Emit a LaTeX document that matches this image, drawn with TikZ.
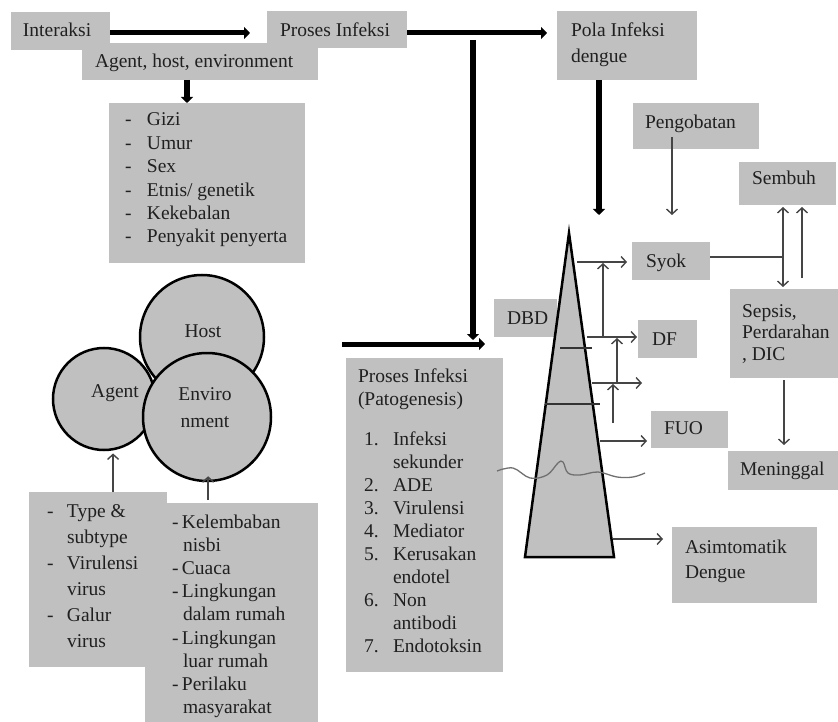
\documentclass[tikz,border=0pt]{standalone}
\usepackage{fontspec}
\setmainfont{Liberation Serif}
\usetikzlibrary{arrows.meta}
\definecolor{boxgray}{HTML}{C0C0C0}
\definecolor{txtc}{HTML}{202020}
\definecolor{linec}{HTML}{454545}
\definecolor{wavec}{HTML}{707070}
\begin{document}
\begin{tikzpicture}[x=1pt,y=-1pt,
  box/.style={fill=boxgray, draw=none, inner sep=0pt, outer sep=0pt, anchor=north west},
  txt/.style={inner sep=0pt, outer sep=0pt, text=txtc, font=\fontsize{19.5}{23.4}\selectfont, anchor=base west},
  circ/.style={circle, draw=black, line width=2.5pt, fill=boxgray, inner sep=0pt},
  bigarrow/.style={line width=5pt, draw=black, -{Triangle[length=6pt,width=12pt]}},
  thinarrow/.style={draw=linec, line width=1.4pt, -{Straight Barb[length=5pt,width=11pt]}},
  thinboth/.style={draw=linec, line width=1.4pt, {Straight Barb[length=5pt,width=11pt]}-{Straight Barb[length=5pt,width=11pt]}},
  thinline/.style={draw=linec, line width=1.4pt}
]
\useasboundingbox (0,0) rectangle (838,722);

% ---- boxes ----
\node[box, minimum width=99pt, minimum height=38pt] (intbox) at (11,12) {};
\node[box, minimum width=236pt, minimum height=37pt] (agentbox) at (82,43) {};
\node[box, minimum width=140pt, minimum height=37pt] (procbox) at (267,11) {};
\node[box, minimum width=140pt, minimum height=69pt] (polabox) at (557,11) {};
\node[box, minimum width=196pt, minimum height=160pt] (gizibox) at (109,103) {};
\node[box, minimum width=126pt, minimum height=46pt] (pengbox) at (633,103) {};
\node[box, minimum width=97pt, minimum height=43pt] (sembox) at (739,162) {};
\node[box, minimum width=78pt, minimum height=38pt] (syokbox) at (632,242) {};
\node[box, minimum width=63pt, minimum height=38pt] (dbdbox) at (494,299) {};
\node[box, minimum width=59pt, minimum height=38pt] (dfbox) at (638,320) {};
\node[box, minimum width=108pt, minimum height=89pt] (sepbox) at (730,289) {};
\node[box, minimum width=77pt, minimum height=37pt] (fuobox) at (651,411) {};
\node[box, minimum width=110pt, minimum height=39pt] (menbox) at (728,451) {};
\node[box, minimum width=145pt, minimum height=76pt] (asimbox) at (672,527) {};
\node[box, minimum width=157pt, minimum height=314pt] (patbox) at (346,358) {};
\node[box, minimum width=173pt, minimum height=219pt] (kelbox) at (145,503) {};
\node[box, minimum width=138pt, minimum height=175pt] (typebox) at (29,492) {};

% ---- circles ----
\node[circ, minimum size=124pt] (hostc) at (202,337) {};
\node[circ, minimum size=102pt] (agentc) at (104,399) {};
\node[circ, minimum size=128pt] (envc) at (207,417) {};

% ---- triangle ----
\coordinate (apex) at (569,233);
\coordinate (tbl) at (525,557);
\coordinate (tbr) at (614,557);
\draw[line width=2.5pt, fill=boxgray, line join=miter] (apex) -- (tbr) -- (tbl) -- cycle;
\draw[draw=black!80, line width=1.2pt] (560,348) -- (592,348);
\draw[draw=black!80, line width=1.2pt] (545,404) -- (600,404);

% ---- texts ----
\node[txt] (t-int) at (23,37) {Interaksi};
\node[txt] (t-proc) at (280,37) {Proses Infeksi};
\node[txt] (t-agent) at (95,68) {Agent, host, environment};
\node[txt, font=\fontsize{19.5}{26}\selectfont] (t-pola) at (571,37)
  {\begin{tabular}[t]{@{}l@{}}Pola Infeksi\\dengue\end{tabular}};
\node[txt] (t-gizi) at (125,126)
  {\begin{tabular}[t]{@{}l@{}}
   \makebox[22pt][l]{-}Gizi\\
   \makebox[22pt][l]{-}Umur\\
   \makebox[22pt][l]{-}Sex\\
   \makebox[22pt][l]{-}Etnis/ genetik\\
   \makebox[22pt][l]{-}Kekebalan\\
   \makebox[22pt][l]{-}Penyakit penyerta
   \end{tabular}};
\node[txt] (t-peng) at (645,129) {Pengobatan};
\node[txt] (t-sem) at (752,185) {Sembuh};
\node[txt] (t-syok) at (646,267) {Syok};
\node[txt] (t-dbd) at (507,324) {DBD};
\node[txt] (t-df) at (652,345) {DF};
\node[txt] (t-fuo) at (664,434) {FUO};
\node[txt] (t-men) at (740,475) {Meninggal};
\node[txt, font=\fontsize{19.5}{25}\selectfont] (t-asim) at (685,553)
  {\begin{tabular}[t]{@{}l@{}}Asimtomatik\\Dengue\end{tabular}};
\node[txt, font=\fontsize{19.5}{21.5}\selectfont] (t-sep) at (742,317)
  {\begin{tabular}[t]{@{}l@{}}Sepsis,\\Perdarahan\\, DIC\end{tabular}};
\node[txt, anchor=base] (t-host) at (203,337) {Host};
\node[txt, anchor=base] (t-agc) at (115,397) {Agent};
\node[txt, anchor=base, font=\fontsize{19.5}{27}\selectfont] (t-env) at (205,400)
  {\begin{tabular}[t]{@{}c@{}}Enviro\\nment\end{tabular}};
\node[txt, font=\fontsize{19.5}{26}\selectfont] (t-type) at (47,517)
  {\begin{tabular}[t]{@{}l@{}}
   \makebox[20pt][l]{-}Type \&\\
   \makebox[20pt][l]{}subtype\\
   \makebox[20pt][l]{-}Virulensi\\
   \makebox[20pt][l]{}virus\\
   \makebox[20pt][l]{-}Galur\\
   \makebox[20pt][l]{}virus
   \end{tabular}};
\node[txt, font=\fontsize{19.5}{23.2}\selectfont] (t-kel) at (172,528)
  {\begin{tabular}[t]{@{}l@{}}
   \makebox[10pt][l]{-}Kelembaban\\
   \makebox[11pt][l]{}nisbi\\
   \makebox[10pt][l]{-}Cuaca\\
   \makebox[10pt][l]{-}Lingkungan\\
   \makebox[11pt][l]{}dalam rumah\\
   \makebox[10pt][l]{-}Lingkungan\\
   \makebox[11pt][l]{}luar rumah\\
   \makebox[10pt][l]{-}Perilaku\\
   \makebox[11pt][l]{}masyarakat
   \end{tabular}};
\node[txt, font=\fontsize{19.5}{23}\selectfont] (t-pat) at (358,382)
  {\begin{tabular}[t]{@{}l@{}}
   Proses Infeksi\\
   (Patogenesis)\\[17pt]
   \hspace{6pt}\makebox[29pt][l]{1.}Infeksi\\
   \hspace{6pt}\makebox[29pt][l]{}sekunder\\
   \hspace{6pt}\makebox[29pt][l]{2.}ADE\\
   \hspace{6pt}\makebox[29pt][l]{3.}Virulensi\\
   \hspace{6pt}\makebox[29pt][l]{4.}Mediator\\
   \hspace{6pt}\makebox[29pt][l]{5.}Kerusakan\\
   \hspace{6pt}\makebox[29pt][l]{}endotel\\
   \hspace{6pt}\makebox[29pt][l]{6.}Non\\
   \hspace{6pt}\makebox[29pt][l]{}antibodi\\
   \hspace{6pt}\makebox[29pt][l]{7.}Endotoksin
   \end{tabular}};

% ---- thick arrows ----
\draw[bigarrow, shorten >=17pt] (intbox.east |- 0,33) -- (procbox.west |- 0,33);
\draw[bigarrow, shorten >=10pt] (procbox.east |- 0,33) -- (polabox.west |- 0,33);
\coordinate (split) at (473,40);
\coordinate (splitend) at (473,340);
\draw[bigarrow, line width=6pt] (split) -- (splitend);
\coordinate (hstart) at (342,344);
\draw[bigarrow, shorten >=9pt] (hstart) -- (dbdbox.west |- 0,344);
\coordinate (polaend) at (599,215);
\draw[bigarrow, line width=6pt] (polabox.south -| 599,0) -- (polaend);
\draw[bigarrow, line width=6pt] (agentbox.south -| 187,0) -- (gizibox.north -| 187,0);

% ---- thin arrows: right part ----
\draw[thinarrow, shorten <=-12pt, shorten >=27pt] (pengbox.south -| 672,0) -- (syokbox.north -| 672,0);
\coordinate (junc) at (783,257);
\draw[thinline] (syokbox.east |- junc) -- (junc);
\draw[thinboth, shorten <=2pt, shorten >=2pt] (sembox.south -| 783,0) -- (sepbox.north -| 783,0);
\draw[thinarrow, shorten <=11pt, shorten >=2pt] (sepbox.north -| 802,0) -- (sembox.south -| 802,0);
\draw[thinarrow, shorten <=2pt, shorten >=6pt] (sepbox.south -| 784,0) -- (menbox.north -| 784,0);

% ---- arrows from the triangle ----
\coordinate (s1) at (577,262);
\draw[thinarrow, shorten >=5pt] (s1) -- (syokbox.west |- s1);
\coordinate (s2) at (587,337);
\draw[thinarrow, shorten >=1pt] (s2) -- (dfbox.west |- s2);
\coordinate (s3) at (592,383);
\coordinate (s3e) at (642,383);
\draw[thinarrow] (s3) -- (s3e);
\coordinate (s4) at (600,441);
\draw[thinarrow, shorten >=4pt] (s4) -- (fuobox.west |- s4);
\coordinate (s5) at (613,539);
\draw[thinarrow, shorten >=9pt] (s5) -- (asimbox.west |- s5);
\coordinate (v1a) at (603,337);
\coordinate (v1b) at (603,263);
\draw[thinarrow] (v1a) -- (v1b);
\coordinate (v2a) at (617,383);
\coordinate (v2b) at (617,338);
\draw[thinarrow] (v2a) -- (v2b);
\coordinate (v3a) at (613,423);
\coordinate (v3b) at (613,384);
\draw[thinarrow] (v3a) -- (v3b);

% ---- arrows to the circles ----
\draw[thinarrow, shorten >=3pt] (typebox.north -| agentc.-80) -- (agentc.-80);
\draw[thinarrow, shorten <=3pt, shorten >=-6pt] (kelbox.north -| envc.-89) -- (envc.-89);

% ---- wavy line ----
\draw[wavec, line width=1.3pt] plot[smooth, tension=0.6] coordinates
  {(497,471) (513,468) (530,478) (547,475) (558,463) (563,462) (568,473) (580,475) (598,472) (617,477) (633,477) (645,473)};
\end{tikzpicture}
\end{document}
